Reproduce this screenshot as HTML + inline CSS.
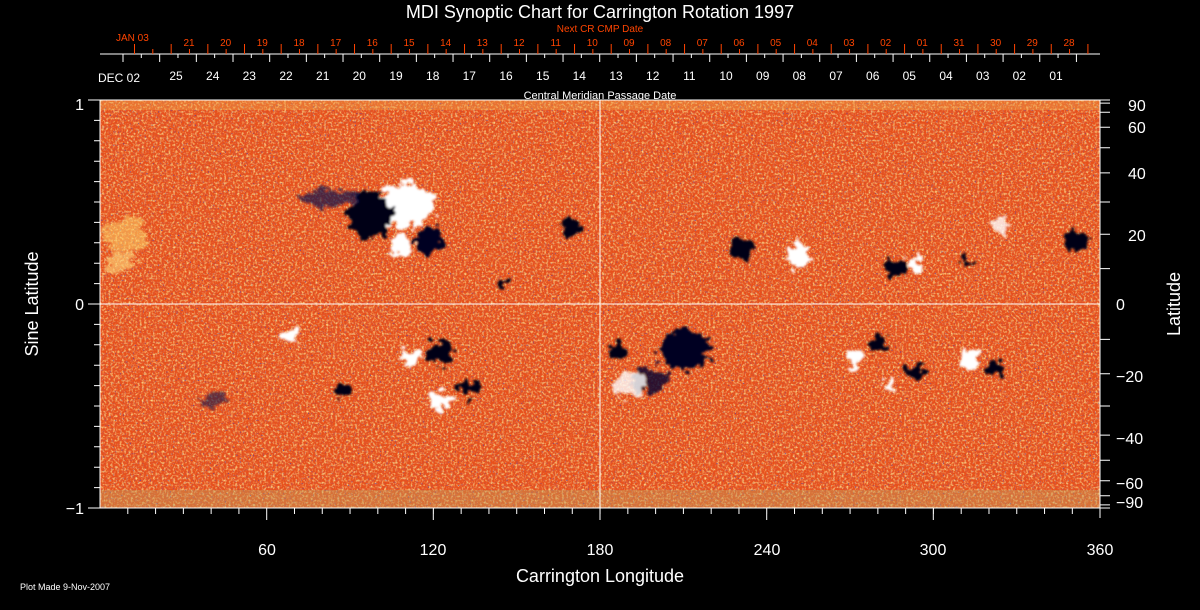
<!DOCTYPE html>
<html><head><meta charset="utf-8"><style>
html,body{margin:0;padding:0;background:#000;width:1200px;height:610px;overflow:hidden}
svg text{font-family:"Liberation Sans",sans-serif}
</style></head><body>
<svg width="1200" height="610" xmlns="http://www.w3.org/2000/svg">
<defs>
<filter id="noise" x="0" y="0" width="100%" height="100%">
<feTurbulence type="fractalNoise" baseFrequency="0.45" numOctaves="2" seed="3"/>
<feColorMatrix type="matrix" values="0 0 0 0 1  0 0 0 0 0.9  0 0 0 0 0.35  2.2 0 0 0 -1.0"/>
</filter>
<filter id="noise2" x="0" y="0" width="100%" height="100%">
<feTurbulence type="fractalNoise" baseFrequency="0.45" numOctaves="2" seed="9"/>
<feColorMatrix type="matrix" values="0 0 0 0 0.7  0 0 0 0 0.1  0 0 0 0 0.05  2.2 0 0 0 -1.0"/>
</filter>
<filter id="noise3" x="0" y="0" width="100%" height="100%">
<feTurbulence type="fractalNoise" baseFrequency="0.6" numOctaves="1" seed="21"/>
<feColorMatrix type="matrix" values="0 0 0 0 0.05  0 0 0 0 0.05  0 0 0 0 0.5  4 0 0 0 -2.55"/>
</filter>
<filter id="blob" x="-20%" y="-20%" width="140%" height="140%">
<feTurbulence type="fractalNoise" baseFrequency="0.12" numOctaves="2" seed="5" result="t"/>
<feDisplacementMap in="SourceGraphic" in2="t" scale="22" xChannelSelector="R" yChannelSelector="G" result="d"/>
<feGaussianBlur in="d" stdDeviation="1"/>
</filter>
<clipPath id="pc"><rect x="100" y="100" width="1000" height="408"/></clipPath>
</defs>
<text x="600" y="18" fill="#fff" font-size="18" text-anchor="middle">MDI Synoptic Chart for Carrington Rotation 1997</text>
<text x="600" y="32" fill="#ff4400" font-size="10" text-anchor="middle">Next CR CMP Date</text>
<text x="600" y="99" fill="#fff" font-size="11" text-anchor="middle">Central Meridian Passage Date</text>
<line x1="100" y1="54" x2="1100" y2="54" stroke="#fff" stroke-width="1"/>
<path d="M123,54 v8 m36.67,-8 v8 m36.67,-8 v8 m36.67,-8 v8 m36.67,-8 v8 m36.67,-8 v8 m36.67,-8 v8 m36.67,-8 v8 m36.67,-8 v8 m36.67,-8 v8 m36.67,-8 v8 m36.67,-8 v8 m36.67,-8 v8 m36.67,-8 v8 m36.67,-8 v8 m36.67,-8 v8 m36.67,-8 v8 m36.67,-8 v8 m36.67,-8 v8 m36.67,-8 v8 m36.67,-8 v8 m36.67,-8 v8 m36.67,-8 v8 m36.67,-8 v8 m36.67,-8 v8 m36.67,-8 v8 m36.67,-8 v8" stroke="#fff" fill="none"/>
<path d="M141.3,54 v4 m36.67,-4 v4 m36.67,-4 v4 m36.67,-4 v4 m36.67,-4 v4 m36.67,-4 v4 m36.67,-4 v4 m36.67,-4 v4 m36.67,-4 v4 m36.67,-4 v4 m36.67,-4 v4 m36.67,-4 v4 m36.67,-4 v4 m36.67,-4 v4 m36.67,-4 v4 m36.67,-4 v4 m36.67,-4 v4 m36.67,-4 v4 m36.67,-4 v4 m36.67,-4 v4 m36.67,-4 v4 m36.67,-4 v4 m36.67,-4 v4 m36.67,-4 v4 m36.67,-4 v4 m36.67,-4 v4" stroke="#fff" fill="none"/>
<path d="M134.5,54 v-10 m36.67,10 v-10 m36.67,10 v-10 m36.67,10 v-10 m36.67,10 v-10 m36.67,10 v-10 m36.67,10 v-10 m36.67,10 v-10 m36.67,10 v-10 m36.67,10 v-10 m36.67,10 v-10 m36.67,10 v-10 m36.67,10 v-10 m36.67,10 v-10 m36.67,10 v-10 m36.67,10 v-10 m36.67,10 v-10 m36.67,10 v-10 m36.67,10 v-10 m36.67,10 v-10 m36.67,10 v-10 m36.67,10 v-10 m36.67,10 v-10 m36.67,10 v-10 m36.67,10 v-10 m36.67,10 v-10 m36.67,10 v-10" stroke="#ff4400" fill="none"/>
<path d="M152.8,54 v-5 m36.67,5 v-5 m36.67,5 v-5 m36.67,5 v-5 m36.67,5 v-5 m36.67,5 v-5 m36.67,5 v-5 m36.67,5 v-5 m36.67,5 v-5 m36.67,5 v-5 m36.67,5 v-5 m36.67,5 v-5 m36.67,5 v-5 m36.67,5 v-5 m36.67,5 v-5 m36.67,5 v-5 m36.67,5 v-5 m36.67,5 v-5 m36.67,5 v-5 m36.67,5 v-5 m36.67,5 v-5 m36.67,5 v-5 m36.67,5 v-5 m36.67,5 v-5 m36.67,5 v-5 m36.67,5 v-5" stroke="#ff4400" fill="none"/>
<g fill="#fff" font-size="12" text-anchor="middle">
<text x="176" y="80">25</text><text x="212.7" y="80">24</text><text x="249.3" y="80">23</text><text x="286" y="80">22</text><text x="322.7" y="80">21</text><text x="359.3" y="80">20</text><text x="396" y="80">19</text><text x="432.7" y="80">18</text><text x="469.3" y="80">17</text><text x="506" y="80">16</text><text x="542.7" y="80">15</text><text x="579.3" y="80">14</text><text x="616" y="80">13</text><text x="652.7" y="80">12</text><text x="689.3" y="80">11</text><text x="726" y="80">10</text><text x="762.7" y="80">09</text><text x="799.3" y="80">08</text><text x="836" y="80">07</text><text x="872.7" y="80">06</text><text x="909.3" y="80">05</text><text x="946" y="80">04</text><text x="982.7" y="80">03</text><text x="1019.3" y="80">02</text><text x="1056" y="80">01</text>
</g>
<g fill="#ff4400" font-size="10" text-anchor="middle">
<text x="189" y="46">21</text><text x="225.7" y="46">20</text><text x="262.3" y="46">19</text><text x="299" y="46">18</text><text x="335.7" y="46">17</text><text x="372.3" y="46">16</text><text x="409" y="46">15</text><text x="445.7" y="46">14</text><text x="482.3" y="46">13</text><text x="519" y="46">12</text><text x="555.7" y="46">11</text><text x="592.3" y="46">10</text><text x="629" y="46">09</text><text x="665.7" y="46">08</text><text x="702.3" y="46">07</text><text x="739" y="46">06</text><text x="775.7" y="46">05</text><text x="812.3" y="46">04</text><text x="849" y="46">03</text><text x="885.7" y="46">02</text><text x="922.3" y="46">01</text><text x="959" y="46">31</text><text x="995.7" y="46">30</text><text x="1032.3" y="46">29</text><text x="1069" y="46">28</text>
</g>
<text x="98" y="82" fill="#fff" font-size="12">DEC 02</text>
<text x="116" y="41" fill="#ff4400" font-size="10">JAN 03</text>
<g clip-path="url(#pc)">
<rect x="100" y="100" width="1000" height="408" fill="#e8501a"/>
<rect x="100" y="100" width="1000" height="408" filter="url(#noise2)"/>
<rect x="100" y="100" width="1000" height="408" filter="url(#noise)" opacity="0.9"/>
<rect x="100" y="100" width="1000" height="408" filter="url(#noise3)"/>
<rect x="100" y="100" width="1000" height="10" fill="#f0b050" opacity="0.35"/>
<rect x="100" y="490" width="1000" height="18" fill="#c0a060" opacity="0.4"/>
<g filter="url(#blob)">
<ellipse cx="405" cy="205" rx="30" ry="22" fill="#fff"/>
<ellipse cx="370" cy="215" rx="22" ry="24" fill="#000018"/>
<ellipse cx="430" cy="240" rx="14" ry="12" fill="#000020"/>
<ellipse cx="402" cy="245" rx="12" ry="11" fill="#fff"/>
<ellipse cx="330" cy="198" rx="30" ry="8" fill="#10104a" opacity="0.7"/>
<ellipse cx="125" cy="235" rx="22" ry="18" fill="#ffe070" opacity="0.5"/>
<ellipse cx="570" cy="228" rx="11" ry="9" fill="#000018"/>
<ellipse cx="502" cy="283" rx="6" ry="6" fill="#000018"/>
<ellipse cx="290" cy="335" rx="9" ry="7" fill="#fff"/>
<ellipse cx="440" cy="352" rx="13" ry="13" fill="#000018"/>
<ellipse cx="410" cy="358" rx="11" ry="8" fill="#fff"/>
<ellipse cx="440" cy="400" rx="14" ry="9" fill="#fff"/>
<ellipse cx="467" cy="388" rx="10" ry="9" fill="#000018"/>
<ellipse cx="345" cy="390" rx="10" ry="6" fill="#000018"/>
<ellipse cx="215" cy="400" rx="16" ry="6" fill="#10104a" opacity="0.6"/>
<ellipse cx="685" cy="350" rx="25" ry="20" fill="#000020"/>
<ellipse cx="650" cy="380" rx="18" ry="14" fill="#000830" opacity="0.8"/>
<ellipse cx="628" cy="385" rx="18" ry="14" fill="#fff" opacity="0.8"/>
<ellipse cx="618" cy="350" rx="9" ry="9" fill="#000018"/>
<ellipse cx="742" cy="248" rx="13" ry="11" fill="#000018"/>
<ellipse cx="800" cy="255" rx="11" ry="13" fill="#fff"/>
<ellipse cx="895" cy="268" rx="10" ry="9" fill="#000018"/>
<ellipse cx="915" cy="265" rx="8" ry="8" fill="#fff"/>
<ellipse cx="965" cy="262" rx="6" ry="5" fill="#000018"/>
<ellipse cx="1075" cy="240" rx="11" ry="10" fill="#000018"/>
<ellipse cx="1000" cy="225" rx="9" ry="8" fill="#fff" opacity="0.8"/>
<ellipse cx="880" cy="345" rx="9" ry="8" fill="#000018"/>
<ellipse cx="855" cy="358" rx="9" ry="8" fill="#fff"/>
<ellipse cx="915" cy="372" rx="11" ry="6" fill="#000018"/>
<ellipse cx="970" cy="360" rx="9" ry="11" fill="#fff"/>
<ellipse cx="995" cy="368" rx="8" ry="8" fill="#000018"/>
<ellipse cx="890" cy="385" rx="6" ry="6" fill="#fff"/>
<ellipse cx="120" cy="262" rx="16" ry="8" fill="#ffe080" opacity="0.6"/>
</g>
</g>
<rect x="100" y="100" width="1000" height="408" fill="none" stroke="#fff" stroke-width="1"/>
<line x1="600" y1="100" x2="600" y2="508" stroke="#fff"/>
<line x1="100" y1="304" x2="1100" y2="304" stroke="#fff"/>
<line x1="1100" y1="100" x2="1100" y2="518" stroke="#fff"/>
<path d="M127.8,508 v6 m27.78,-6 v6 m27.78,-6 v6 m27.78,-6 v6 m27.78,-6 v6 m27.78,-6 v6 m27.78,-6 v6 m27.78,-6 v6 m27.78,-6 v6 m27.78,-6 v6 m27.78,-6 v6 m27.78,-6 v6 m27.78,-6 v6 m27.78,-6 v6 m27.78,-6 v6 m27.78,-6 v6 m27.78,-6 v6 m27.78,-6 v6 m27.78,-6 v6 m27.78,-6 v6 m27.78,-6 v6 m27.78,-6 v6 m27.78,-6 v6 m27.78,-6 v6 m27.78,-6 v6 m27.78,-6 v6 m27.78,-6 v6 m27.78,-6 v6 m27.78,-6 v6 m27.78,-6 v6 m27.78,-6 v6 m27.78,-6 v6 m27.78,-6 v6 m27.78,-6 v6 m27.78,-6 v6 M266.7,508 v12 M433.3,508 v12 M600,508 v12 M766.7,508 v12 M933.3,508 v12" stroke="#fff" fill="none"/>
<path d="M100,100 h-12 m12,20.4 h-6 m6,20.4 h-6 m6,20.4 h-6 m6,20.4 h-6 m6,20.4 h-6 m6,20.4 h-6 m6,20.4 h-6 m6,20.4 h-6 m6,20.4 h-6 M100,304 h-12 m12,20.4 h-6 m6,20.4 h-6 m6,20.4 h-6 m6,20.4 h-6 m6,20.4 h-6 m6,20.4 h-6 m6,20.4 h-6 m6,20.4 h-6 m6,20.4 h-6 M100,508 h-12" stroke="#fff" fill="none"/>
<path d="M1100,100 h10 M1100,103.1 h10 M1100,112.3 h10 M1100,127.3 h10 M1100,147.7 h10 M1100,172.9 h10 M1100,202 h10 M1100,234.2 h10 M1100,268.6 h10 M1100,339.4 h10 M1100,373.8 h10 M1100,406 h10 M1100,435.1 h10 M1100,460.3 h10 M1100,480.7 h10 M1100,495.7 h10 M1100,504.9 h10 M1100,508 h10" stroke="#fff" fill="none"/>
<g fill="#fff" font-size="16">
<text x="84" y="110" text-anchor="end">1</text>
<text x="84" y="310" text-anchor="end">0</text>
<text x="84" y="514" text-anchor="end">−1</text>
<text x="267" y="555" text-anchor="middle">60</text>
<text x="433" y="555" text-anchor="middle">120</text>
<text x="600" y="555" text-anchor="middle">180</text>
<text x="767" y="555" text-anchor="middle">240</text>
<text x="933" y="555" text-anchor="middle">300</text>
<text x="1100" y="555" text-anchor="middle">360</text>
<text x="1128" y="111">90</text>
<text x="1128" y="133">60</text>
<text x="1128" y="179">40</text>
<text x="1128" y="241">20</text>
<text x="1116" y="310">0</text>
<text x="1116" y="382">−20</text>
<text x="1116" y="444">−40</text>
<text x="1116" y="489">−60</text>
<text x="1116" y="508">−90</text>
<text x="600" y="582" text-anchor="middle" font-size="18">Carrington Longitude</text>
<text transform="translate(38,304) rotate(-90)" text-anchor="middle" font-size="18">Sine Latitude</text>
<text transform="translate(1180,304) rotate(-90)" text-anchor="middle" font-size="18">Latitude</text>
</g>
<text x="20" y="590" fill="#fff" font-size="9">Plot Made  9-Nov-2007</text>
</svg>
</body></html>
